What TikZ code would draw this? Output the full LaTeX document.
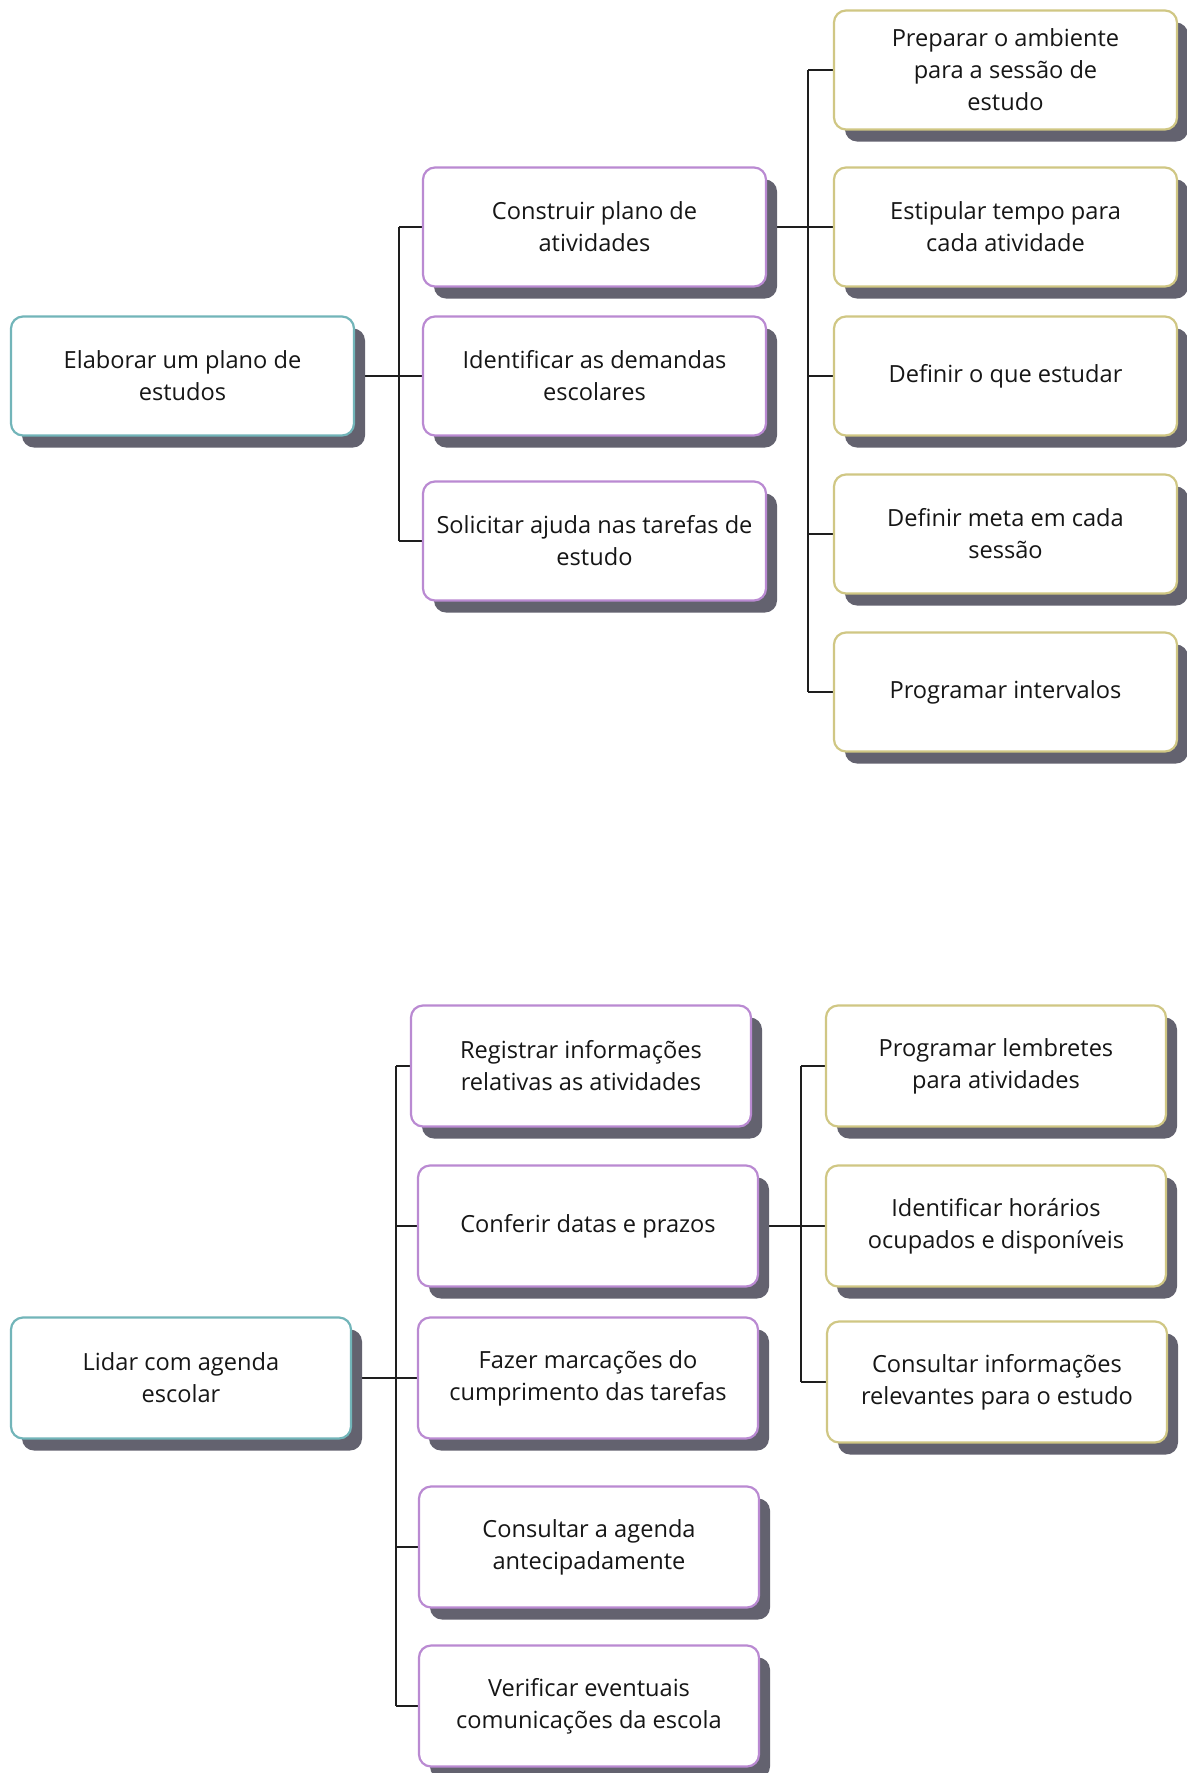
\documentclass[tikz,border=0pt]{standalone}
\usepackage{fontspec}
\setmainfont{Open Sans}
\usetikzlibrary{shadows,backgrounds}

\definecolor{rootline}{HTML}{72B5B9}
\definecolor{midline}{HTML}{BA8AD2}
\definecolor{leafline}{HTML}{D0C784}
\definecolor{shade}{HTML}{63626F}
\definecolor{wire}{HTML}{1E1E1E}
\definecolor{ink}{HTML}{161616}

\tikzset{
  card/.style={draw, line width=1.1pt, rounded corners=6pt, fill=white,
    align=center, inner sep=0pt, text=ink,
    font=\fontsize{11.8}{16}\selectfont,
    drop shadow={shadow xshift=5.5pt, shadow yshift=-6pt, fill=shade, opacity=1}},
  topsize/.style={minimum width=171.5pt, minimum height=59.5pt},
  lowsize/.style={minimum width=170pt, minimum height=60.5pt},
  rootcard/.style={card, draw=rootline},
  midcard/.style={card, draw=midline},
  leafcard/.style={card, draw=leafline},
  wireline/.style={draw=wire, line width=1pt}
}

\begin{document}
\begin{tikzpicture}[x=0.5pt, y=-0.5pt]
\useasboundingbox (0,0) rectangle (1187,1773);

% ---------- study plan tree ----------
\node[rootcard, topsize] (r1) at (182.5,376) {Elaborar um plano de\\estudos};

\node[midcard, topsize] (a1) at (594.5,227) {Construir plano de\\atividades};
\node[midcard, topsize] (a2) at (594.5,376) {Identificar as demandas\\escolares};
\node[midcard, topsize] (a3) at (594.5,541) {Solicitar ajuda nas tarefas de\\estudo};

\node[leafcard, topsize] (b1) at (1005.5,70)  {Preparar o ambiente\\para a sessão de\\estudo};
\node[leafcard, topsize] (b2) at (1005.5,227) {Estipular tempo para\\cada atividade};
\node[leafcard, topsize] (b3) at (1005.5,376) {Definir o que estudar};
\node[leafcard, topsize] (b4) at (1005.5,534) {Definir meta em cada\\sessão};
\node[leafcard, topsize] (b5) at (1005.5,692) {Programar intervalos};

% ---------- school agenda tree ----------
\node[rootcard, lowsize] (r2) at (181,1378) {Lidar com agenda\\escolar};

\node[midcard, lowsize] (c1) at (581,1066)  {Registrar informações\\relativas as atividades};
\node[midcard, lowsize] (c2) at (588,1226)  {Conferir datas e prazos};
\node[midcard, lowsize] (c3) at (588,1378)  {Fazer marcações do\\cumprimento das tarefas};
\node[midcard, lowsize] (c4) at (589,1547)  {Consultar a agenda\\antecipadamente};
\node[midcard, lowsize] (c5) at (589,1706)  {Verificar eventuais\\comunicações da escola};

\node[leafcard, lowsize] (d1) at (996,1066) {Programar lembretes\\para atividades};
\node[leafcard, lowsize] (d2) at (996,1226) {Identificar horários\\ocupados e disponíveis};
\node[leafcard, lowsize] (d3) at (997,1382) {Consultar informações\\relevantes para o estudo};

% bus positions of the bracket connectors
\coordinate (bus1) at (399,376);
\coordinate (bus2) at (808,227);
\coordinate (bus3) at (396,1378);
\coordinate (bus4) at (801,1226);

\begin{scope}[on background layer]
  \fill[white] (0,0) rectangle (1187,1773);

  % root 1 -> activities
  \draw[wireline] (r1.east) -- (bus1);
  \draw[wireline] (bus1 |- a1.west) -- (bus1 |- a3.west);
  \foreach \n in {a1,a2,a3} \draw[wireline] (bus1 |- \n.west) -- (\n.west);

  % plan of activities -> steps
  \draw[wireline] (a1.east) -- (b2.west);
  \draw[wireline] (bus2 |- b1.west) -- (bus2 |- b5.west);
  \foreach \n in {b1,b2,b3,b4,b5} \draw[wireline] (bus2 |- \n.west) -- (\n.west);

  % root 2 -> agenda tasks
  \draw[wireline] (r2.east) -- (bus3);
  \draw[wireline] (bus3 |- c1.west) -- (bus3 |- c5.west);
  \foreach \n in {c1,c2,c3,c4,c5} \draw[wireline] (bus3 |- \n.west) -- (\n.west);

  % dates and deadlines -> follow-ups
  \draw[wireline] (c2.east) -- (d2.west);
  \draw[wireline] (bus4 |- d1.west) -- (bus4 |- d3.west);
  \foreach \n in {d1,d2,d3} \draw[wireline] (bus4 |- \n.west) -- (\n.west);
\end{scope}
\end{tikzpicture}
\end{document}
